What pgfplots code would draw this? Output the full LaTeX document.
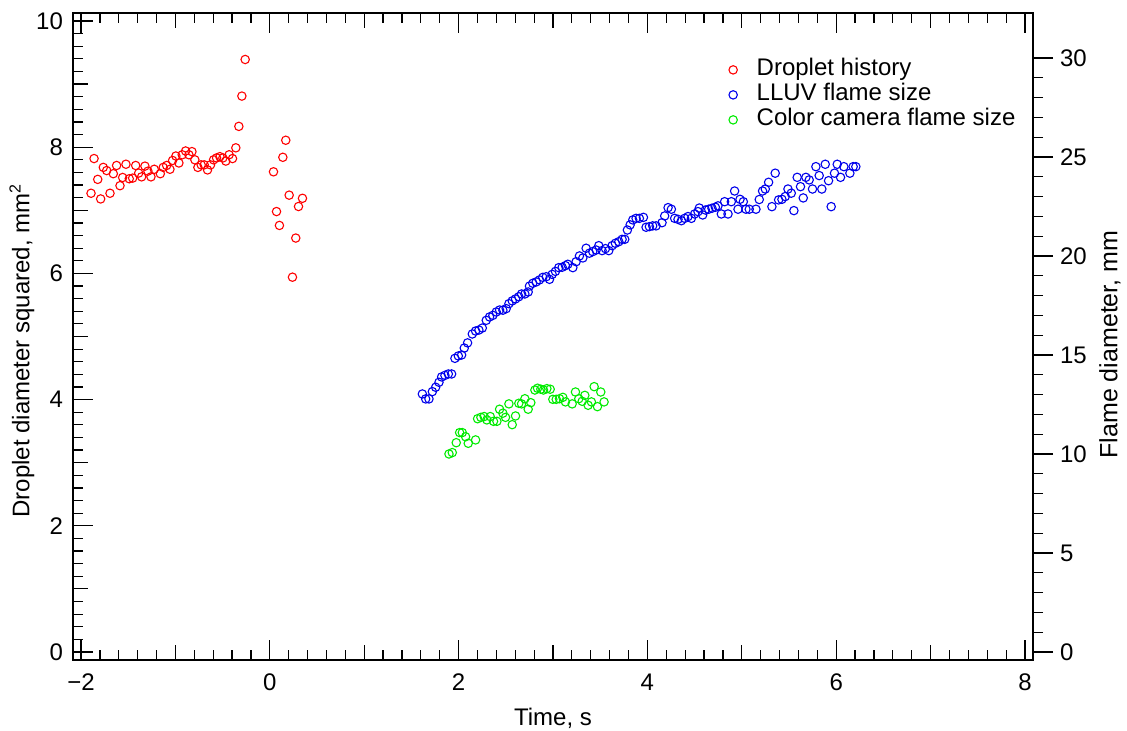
\documentclass[border=0pt]{standalone}
\usepackage{fontspec}
\setmainfont{Liberation Sans}
\usepackage{pgfplots}
\usepackage{pgfplotstable}
\pgfplotsset{compat=1.18}
\usetikzlibrary{calc}
\definecolor{pred}{RGB}{255,0,0}
\definecolor{pblue}{RGB}{0,0,235}
\definecolor{pgreen}{RGB}{0,235,0}

\pgfplotstableread{
x y
-1.894 7.27
-1.862 7.82
-1.823 7.49
-1.792 7.18
-1.764 7.68
-1.728 7.63
-1.693 7.27
-1.658 7.58
-1.623 7.71
-1.587 7.39
-1.559 7.52
-1.524 7.73
-1.489 7.50
-1.453 7.51
-1.421 7.71
-1.389 7.59
-1.358 7.53
-1.323 7.70
-1.291 7.62
-1.259 7.53
-1.224 7.65
-1.160 7.58
-1.129 7.68
-1.093 7.71
-1.058 7.65
-1.030 7.79
-0.995 7.86
-0.963 7.75
-0.928 7.88
-0.892 7.94
-0.857 7.88
-0.825 7.93
-0.794 7.80
-0.762 7.68
-0.727 7.72
-0.695 7.72
-0.660 7.64
-0.628 7.72
-0.596 7.80
-0.564 7.83
-0.529 7.85
-0.497 7.83
-0.466 7.78
-0.431 7.88
-0.395 7.82
-0.360 7.99
-0.328 8.33
-0.296 8.81
-0.261 9.39
0.039 7.61
0.071 6.98
0.102 6.76
0.138 7.84
0.169 8.11
0.205 7.24
0.240 5.94
0.275 6.56
0.304 7.06
0.346 7.19
}\droplet

\pgfplotstableread{
x y
1.616 13.03
1.651 12.78
1.686 12.78
1.722 13.15
1.757 13.37
1.792 13.62
1.820 13.89
1.855 13.97
1.891 14.04
1.926 14.04
1.961 14.83
1.997 14.95
2.032 15.00
2.060 15.35
2.095 15.61
2.145 16.06
2.180 16.21
2.215 16.26
2.251 16.36
2.293 16.75
2.328 16.92
2.363 17.00
2.399 17.17
2.434 17.27
2.469 17.26
2.504 17.34
2.533 17.59
2.568 17.73
2.603 17.83
2.638 17.94
2.667 18.08
2.702 18.08
2.737 18.18
2.751 18.48
2.786 18.62
2.822 18.69
2.857 18.79
2.892 18.92
2.928 18.95
2.963 18.82
2.991 19.07
3.026 19.22
3.061 19.41
3.097 19.43
3.132 19.51
3.157 19.58
3.210 19.41
3.245 19.71
3.280 20.00
3.316 19.90
3.351 20.39
3.386 20.14
3.421 20.22
3.457 20.30
3.485 20.52
3.520 20.27
3.556 20.37
3.591 20.27
3.626 20.52
3.661 20.64
3.697 20.72
3.732 20.84
3.760 20.84
3.788 21.31
3.817 21.57
3.845 21.82
3.880 21.90
3.915 21.90
3.958 21.95
3.986 21.45
4.021 21.48
4.056 21.52
4.092 21.52
4.155 21.68
4.183 22.02
4.219 22.44
4.254 22.36
4.289 21.90
4.324 21.85
4.360 21.78
4.395 21.90
4.430 21.99
4.466 21.90
4.500 22.12
4.536 22.24
4.550 22.42
4.586 22.07
4.614 22.32
4.649 22.36
4.684 22.41
4.720 22.46
4.748 22.53
4.783 22.12
4.818 22.74
4.854 22.12
4.889 22.74
4.924 23.28
4.960 22.36
4.981 22.86
5.016 22.74
5.044 22.36
5.079 22.36
5.150 22.36
5.185 22.85
5.220 23.28
5.249 23.38
5.284 23.72
5.319 22.49
5.354 24.18
5.390 22.83
5.425 22.86
5.460 23.00
5.489 23.38
5.524 23.17
5.552 22.29
5.587 23.97
5.622 23.50
5.651 22.93
5.679 23.97
5.714 23.84
5.749 23.38
5.785 24.51
5.820 24.06
5.848 23.38
5.884 24.63
5.919 23.80
5.947 22.49
5.982 24.18
6.011 24.63
6.046 23.97
6.081 24.51
6.145 24.18
6.180 24.51
6.208 24.51
}\lluv

\pgfplotstableread{
x y
1.898 10.00
1.933 10.07
1.975 10.57
2.011 11.08
2.039 11.08
2.074 10.87
2.102 10.54
2.180 10.71
2.201 11.78
2.236 11.85
2.271 11.89
2.299 11.72
2.335 11.89
2.370 11.65
2.406 11.65
2.434 12.26
2.469 12.06
2.497 11.85
2.533 12.53
2.568 11.48
2.603 11.92
2.638 12.56
2.667 12.53
2.702 12.79
2.737 12.26
2.765 12.59
2.808 13.23
2.836 13.32
2.871 13.27
2.899 13.23
2.935 13.30
2.970 13.27
2.998 12.76
3.034 12.76
3.069 12.79
3.104 12.86
3.132 12.63
3.203 12.53
3.238 13.13
3.273 12.79
3.309 12.66
3.337 12.96
3.372 12.46
3.407 12.63
3.436 13.40
3.471 12.39
3.506 13.13
3.541 12.63
}\camera

\pgfplotsset{
  common/.style={
    width=480pt, height=323.5pt, scale only axis,
    xmin=-2.085, xmax=8.085,
    font=\fontsize{12}{14}\selectfont,
    major tick length=10pt, minor tick length=5pt,
    every tick/.style={black, line width=0.6pt},
    every minor tick/.style={black, line width=0.6pt},
    axis line style={line width=0.6pt},
    /pgf/number format/assume math mode=true,
  },
  circ/.style={only marks, mark=o, mark size=2.1pt, line width=0.55pt, #1, mark options={#1},
    legend image code/.code={\path (0pt,0pt) (16pt,0pt); \draw[##1] plot coordinates {(8pt,0pt)};}},
}

\begin{document}
\begin{tikzpicture}
\begin{axis}[common, name=ax,
  ymin=-0.127, ymax=10.127,
  xtick={-2,0,...,8}, xticklabels={−2,0,2,4,6,8},
  minor x tick num=9,
  extra x ticks={-1,1,3,5,7}, extra x tick labels={},
  extra x tick style={major tick length=7.5pt, xtick pos=both},
  ytick={0,2,...,10}, yticklabels={0,2,4,6,8,10},
  minor y tick num=9,
  extra y ticks={1,3,5,7,9}, extra y tick labels={},
  extra y tick style={major tick length=7.5pt, ytick pos=left},
  tick align=inside, xtick pos=both, ytick pos=left,
  xticklabel style={yshift=-3.5pt},
  yticklabel style={xshift=-1.5pt},
  xlabel={Time, s},
  ylabel={Droplet diameter squared, mm\textsuperscript{2}},
  xlabel style={at={(axis description cs:0.5,0)}, anchor=center, yshift=-29pt},
  ylabel style={at={(axis description cs:0,0.5)}, anchor=center, yshift=25.5pt, xshift=-7pt},
]
\addplot[circ=pred] table[x=x,y=y] {\droplet};
\end{axis}
\begin{axis}[common,
  ymin=-0.404, ymax=32.27,
  axis x line=none, axis y line*=right,
  ytick={0,5,...,30}, yticklabels={0,5,10,15,20,25,30},
  minor y tick num=4,
  tick align=outside,
  ylabel={Flame diameter, mm},
  ylabel style={at={(axis description cs:1,0.5)}, anchor=center, yshift=-38.5pt, xshift=-4pt,
    font=\fontsize{12.5}{14}\selectfont},
  legend style={draw=none, fill=none, inner sep=0pt, at={(rel axis cs:0.67,0.932)},
    anchor=north west, row sep=0pt, column sep=3.5pt,
    nodes={inner sep=0pt, text height=9pt, text depth=3.5pt},
    font=\fontsize{12}{14}\selectfont},
  legend cell align=left,
]
\addlegendimage{circ=pred}
\addlegendentry{Droplet history}
\addplot[circ=pblue] table[x=x,y=y] {\lluv};
\addlegendentry{LLUV flame size}
\addplot[circ=pgreen] table[x=x,y=y] {\camera};
\addlegendentry{Color camera flame size}
\end{axis}
\pgfresetboundingbox
\path[use as bounding box] ($(ax.south west)+(-36.5pt,-35.5pt)$) rectangle ($(ax.north east)+(47pt,6.5pt)$);
\end{tikzpicture}
\end{document}
